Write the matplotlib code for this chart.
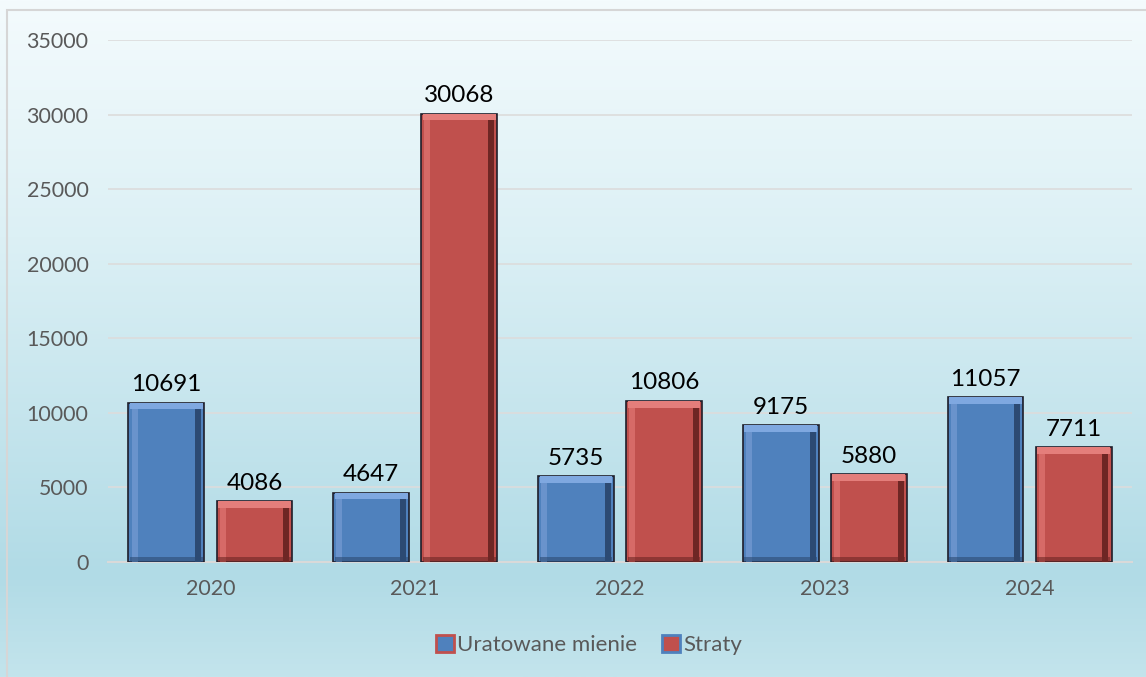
import numpy as np
import matplotlib
matplotlib.use("Agg")
import matplotlib.pyplot as plt
from matplotlib.colors import LinearSegmentedColormap
from matplotlib.patches import Patch, Rectangle

# dane
lata = ['2020', '2021', '2022', '2023', '2024']
uratowane = [10691, 4647, 5735, 9175, 11057]
straty = [4086, 30068, 10806, 5880, 7711]
y_ticks = [0, 5000, 10000, 15000, 20000, 25000, 30000, 35000]

plt.rcParams['font.family'] = ['Lato', 'DejaVu Sans']

fig = plt.figure(figsize=(11.46, 6.77), dpi=100)

# tlo z gradientem
bg = fig.add_axes([0, 0, 1, 1], zorder=-10)
cmap = LinearSegmentedColormap.from_list('bg', [(0.0, '#f4fbfd'), (0.35, '#dcf0f5'),
                                                (0.85, '#b1dbe6'), (1.0, '#c3e4ec')])
grad = np.linspace(0, 1, 256).reshape(-1, 1)
bg.imshow(grad, aspect='auto', cmap=cmap, extent=[0, 1, 0, 1], origin='upper')
bg.add_patch(Rectangle((7 / 1146, -0.01), 1.0, 1 - 10 / 677 + 0.01, fill=False,
                       edgecolor='#d6d6d6', linewidth=1.5, transform=bg.transAxes))
bg.set_xlim(0, 1)
bg.set_ylim(0, 1)
bg.axis('off')

ax = fig.add_axes([108 / 1146, 1 - 562 / 677, 1024 / 1146, 522 / 677])
ax.patch.set_alpha(0)

x = np.arange(len(lata))
w = 0.37
off = 0.215

b1 = ax.bar(x - off, uratowane, w, color='#4f81bd', edgecolor='#1e1e2a', linewidth=1.2, zorder=3)
b2 = ax.bar(x + off, straty, w, color='#c0504d', edgecolor='#1e1e2a', linewidth=1.2, zorder=3)

# efekt "bevel" (krawedzie jasniejsze u gory, ciemniejsze po prawej i na dole)
bev = 450
for bars, light, dark, left in [(b1, '#7fa8e0', '#2c4a73', '#6a93cc'),
                                (b2, '#e47e7b', '#6e2624', '#d66a67')]:
    for b in bars:
        h = b.get_height()
        bx = b.get_x()
        bw = b.get_width()
        ax.bar(bx + bw * 0.04, h - bev, bw * 0.08, align='edge', color=left,
               linewidth=0, zorder=4)
        ax.bar(bx + bw * 0.88, h - bev, bw * 0.08, align='edge', color=dark,
               linewidth=0, zorder=4)
        ax.bar(bx + bw * 0.02, bev, bw * 0.96, bottom=h - bev, align='edge', color=light,
               linewidth=0, zorder=4)
        ax.bar(bx + bw * 0.02, bev * 0.8, bw * 0.96, align='edge', color=dark,
               linewidth=0, zorder=4, alpha=0.6)

for bars, vals in [(b1, uratowane), (b2, straty)]:
    for b, v in zip(bars, vals):
        ax.text(b.get_x() + b.get_width() / 2, v + 500, str(v), ha='center', va='bottom',
                fontsize=17.5, color='black', zorder=5)

ax.set_xlim(-0.5, len(lata) - 0.5)
ax.set_ylim(0, 35000)
ax.set_yticks(y_ticks)
ax.set_yticklabels([str(t) for t in y_ticks])
ax.set_xticks(x)
ax.set_xticklabels(lata)
ax.tick_params(axis='both', length=0, labelsize=15.4, colors='#595959')
ax.tick_params(axis='y', pad=14)
ax.tick_params(axis='x', pad=12)
ax.yaxis.grid(True, color='#dcdcdc', linewidth=1.2, zorder=0)
for s in ['top', 'right', 'left']:
    ax.spines[s].set_visible(False)
ax.spines['bottom'].set_color('#d9d9d9')
ax.spines['bottom'].set_linewidth(1.5)

handles = [Patch(facecolor='#4f81bd', edgecolor='#c0504d', linewidth=2),
           Patch(facecolor='#c0504d', edgecolor='#4f81bd', linewidth=2)]
fig.legend(handles, ['Uratowane mienie', 'Straty'], loc='center', bbox_to_anchor=(589 / 1146, 1 - 645 / 677),
           ncol=2, frameon=False, fontsize=16, labelcolor='#595959', handlelength=0.8,
           handleheight=0.8, handletextpad=0.15, columnspacing=1.1)

fig.savefig('out.png', dpi=100)
